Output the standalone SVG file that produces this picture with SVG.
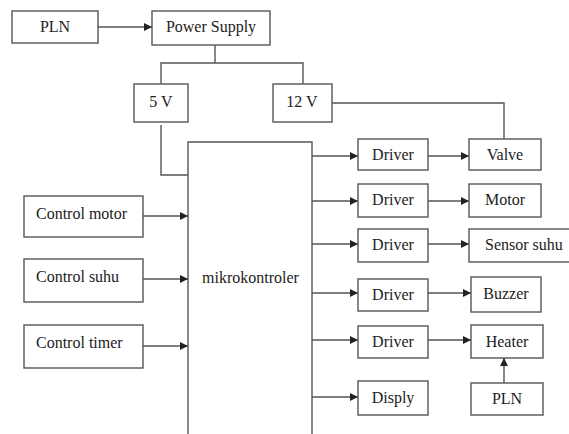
<svg xmlns="http://www.w3.org/2000/svg" width="569" height="434" viewBox="0 0 569 434">
<defs>
<style>
.b{fill:#fff;stroke:#555;stroke-width:1.4}
.l{fill:none;stroke:#555;stroke-width:1.4}
.a{fill:none;stroke:#555;stroke-width:1.4;marker-end:url(#ah)}
text{font-family:"Liberation Serif","Times New Roman",serif;font-size:16px;fill:#222;dominant-baseline:central}
.c{text-anchor:middle}
</style>
<marker id="ah" viewBox="0 0 10 10" refX="10" refY="5" markerWidth="8" markerHeight="8" markerUnits="userSpaceOnUse" orient="auto">
<path d="M0,0 L10,5 L0,10 z" fill="#222"/>
</marker>
</defs>
<rect width="569" height="434" fill="#fff"/>
<g id="connectors">
<path class="a" d="M98,27 H152"/>
<path class="l" d="M215,45 V63 M161,84 V63 H303 V84"/>
<path class="l" d="M161,125 V175 H188"/>
<path class="l" d="M332,103 H504 V139"/>
<path class="a" d="M143,216 H188"/>
<path class="a" d="M143,279 H188"/>
<path class="a" d="M143,346 H188"/>
<path class="a" d="M312,156 H358"/>
<path class="a" d="M312,201 H358"/>
<path class="a" d="M312,244 H358"/>
<path class="a" d="M312,293 H358"/>
<path class="a" d="M312,340 H358"/>
<path class="a" d="M312,397 H358"/>
<path class="a" d="M428,156 H469"/>
<path class="a" d="M428,201 H469"/>
<path class="a" d="M428,244 H469"/>
<path class="a" d="M428,293 H471"/>
<path class="a" d="M428,340 H471"/>
<path class="a" d="M504,383 V358"/>
</g>
<g id="pln1"><rect class="b" x="12" y="11" width="86" height="32"/><text class="c" x="55" y="26">PLN</text></g>
<g id="power-supply"><rect class="b" x="152" y="11" width="118" height="34"/><text class="c" x="211" y="26">Power Supply</text></g>
<g id="v5"><rect class="b" x="134" y="84" width="54" height="38"/><text class="c" x="161" y="101">5 V</text></g>
<g id="v12"><rect class="b" x="273" y="84" width="59" height="38"/><text class="c" x="302" y="101">12 V</text></g>
<g id="mikrokontroler"><path class="b" d="M188,435 V142 H312 V435"/><text x="202" y="277">mikrokontroler</text></g>
<g id="control-motor"><rect class="b" x="24" y="196" width="119" height="41"/><text x="36" y="213">Control motor</text></g>
<g id="control-suhu"><rect class="b" x="24" y="259" width="119" height="43"/><text x="36" y="276">Control suhu</text></g>
<g id="control-timer"><rect class="b" x="24" y="325" width="119" height="43"/><text x="36" y="342">Control timer</text></g>
<g id="driver1"><rect class="b" x="358" y="139" width="70" height="31"/><text class="c" x="393" y="154">Driver</text></g>
<g id="driver2"><rect class="b" x="358" y="184" width="70" height="33"/><text class="c" x="393" y="199">Driver</text></g>
<g id="driver3"><rect class="b" x="358" y="229" width="70" height="33"/><text class="c" x="393" y="244">Driver</text></g>
<g id="driver4"><rect class="b" x="358" y="279" width="70" height="32"/><text class="c" x="393" y="294">Driver</text></g>
<g id="driver5"><rect class="b" x="358" y="326" width="70" height="32"/><text class="c" x="393" y="341">Driver</text></g>
<g id="disply"><rect class="b" x="358" y="381" width="70" height="34"/><text class="c" x="393" y="397">Disply</text></g>
<g id="valve"><rect class="b" x="469" y="139" width="72" height="31"/><text class="c" x="505" y="154">Valve</text></g>
<g id="motor"><rect class="b" x="469" y="184" width="72" height="33"/><text class="c" x="505" y="199">Motor</text></g>
<g id="sensor-suhu"><rect class="b" x="469" y="229" width="110" height="33"/><text x="485" y="244">Sensor suhu</text></g>
<g id="buzzer"><rect class="b" x="471" y="277" width="70" height="35"/><text class="c" x="506" y="293">Buzzer</text></g>
<g id="heater"><rect class="b" x="471" y="325" width="72" height="33"/><text class="c" x="507" y="341">Heater</text></g>
<g id="pln2"><rect class="b" x="471" y="383" width="72" height="32"/><text class="c" x="507" y="398">PLN</text></g>
</svg>
